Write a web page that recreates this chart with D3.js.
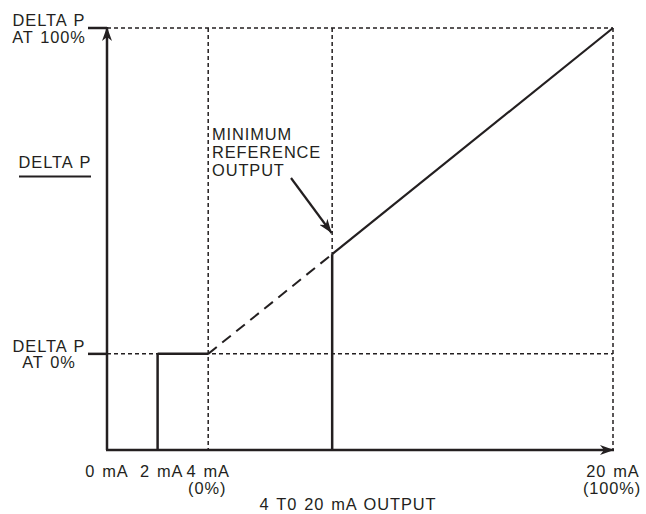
<!DOCTYPE html>
<html>
<head>
<meta charset="utf-8">
<script src="https://cdn.jsdelivr.net/npm/d3@7"></script>
<style>
  html, body { margin: 0; padding: 0; background: #fff; }
  svg { display: block; font-family: "Liberation Sans", Arial, Helvetica, sans-serif; }
  svg text { letter-spacing: 0.9px; word-spacing: 1.5px; }
</style>
</head>
<body>
<svg id="chart" width="646" height="514"></svg>
<script>
// ---- data ----
const xTickValues = [0, 2, 4, 20];
const xTickLabels = ["0 mA", "2 mA", "4 mA", "20 mA"];
const xTickSubLabels = ["", "", "(0%)", "(100%)"];
const xTitle = "4 T0 20 mA OUTPUT";
const yTickValues = [100, 0];
const yTickLabels = [["DELTA P", "AT 100%"], ["DELTA P", "AT 0%"]];
const yTitle = "DELTA P";
const stepMA = [2, 4];          // output held at 0% between 2 mA and 4 mA
const stepPct = [0, 0];
const lineMA = [4, 8.9, 20];    // delta P vs output
const linePct = [0, 30.6, 100];
const minRefMA = 8.9;
const annotation = ["MINIMUM", "REFERENCE", "OUTPUT"];

// ---- scales ----
const svg = d3.select("#chart");
const ink = "#231f20";
const fs = 16.4;
const x = d3.scaleLinear().domain([0, 20]).range([107, 613]);
const y = d3.scaleLinear().domain([-29.5, 100]).range([450, 28]);
const x0 = x(0), y0 = y.range()[0];

const defs = svg.append("defs");
["ah", "ah2"].forEach(id => {
  defs.append("marker").attr("id", id).attr("viewBox", "0 0 14 10")
    .attr("refX", 14).attr("refY", 5).attr("markerWidth", 14).attr("markerHeight", 10)
    .attr("markerUnits", "userSpaceOnUse").attr("orient", "auto")
    .append("path").attr("d", "M0,0 L14,5 L0,10 L4,5 Z").attr("fill", ink);
});

const dash = "4,3";
const g = svg.append("g");

// dashed guides
const guides = [
  [x0, y(100), x(20), y(100)],
  [x(20), y(100), x(20), y0],
  [x0, y(0), x(20), y(0)],
  [x(4), y(100), x(4), y0],
  [x(minRefMA), y(100), x(minRefMA), y(linePct[1])]
];
g.selectAll("line.guide").data(guides).join("line").attr("class", "guide")
  .attr("x1", d => d[0]).attr("y1", d => d[1]).attr("x2", d => d[2]).attr("y2", d => d[3])
  .attr("stroke", ink).attr("stroke-width", 1.5).attr("stroke-dasharray", dash);

// axes with arrows
g.append("line").attr("x1", x0).attr("y1", y0).attr("x2", x0).attr("y2", y(100) - 1)
  .attr("stroke", ink).attr("stroke-width", 2.5).attr("marker-end", "url(#ah)");
g.append("line").attr("x1", x0 - 1).attr("y1", y0).attr("x2", x(20) + 1).attr("y2", y0)
  .attr("stroke", ink).attr("stroke-width", 2.5).attr("marker-end", "url(#ah)");

// y ticks
g.selectAll("line.ytick").data(yTickValues).join("line").attr("class", "ytick")
  .attr("x1", x0 - 19).attr("x2", x0).attr("y1", d => y(d)).attr("y2", d => y(d))
  .attr("stroke", ink).attr("stroke-width", 2.5);

yTickValues.forEach((v, i) => {
  const t = g.append("text").attr("text-anchor", "middle").attr("fill", ink)
    .attr("font-size", fs);
  yTickLabels[i].forEach((s, j) => {
    t.append("tspan").attr("x", 49).attr("y", y(v) - 2 + j * 16.5).text(s);
  });
});

// y title with underline
g.append("text").attr("x", 55).attr("y", 168).attr("text-anchor", "middle")
  .attr("fill", ink).attr("font-size", fs).text(yTitle);
g.append("line").attr("x1", 19).attr("x2", 91).attr("y1", 176.5).attr("y2", 176.5)
  .attr("stroke", ink).attr("stroke-width", 2);

// step at 0%
g.append("line").attr("x1", x(stepMA[0])).attr("y1", y0).attr("x2", x(stepMA[0])).attr("y2", y(stepPct[0]))
  .attr("stroke", ink).attr("stroke-width", 2.5);
g.append("line").attr("x1", x(stepMA[0])).attr("y1", y(stepPct[0])).attr("x2", x(stepMA[1])).attr("y2", y(stepPct[1]))
  .attr("stroke", ink).attr("stroke-width", 2.5);

// dashed part of line (below minimum reference)
g.append("line").attr("x1", x(lineMA[0])).attr("y1", y(linePct[0]))
  .attr("x2", x(lineMA[1])).attr("y2", y(linePct[1]))
  .attr("stroke", ink).attr("stroke-width", 2).attr("stroke-dasharray", "11,7");
// solid part
g.append("line").attr("x1", x(lineMA[1])).attr("y1", y(linePct[1]))
  .attr("x2", x(lineMA[2])).attr("y2", y(linePct[2]))
  .attr("stroke", ink).attr("stroke-width", 2.2);
// minimum reference vertical
g.append("line").attr("x1", x(minRefMA)).attr("y1", y0).attr("x2", x(minRefMA)).attr("y2", y(linePct[1]))
  .attr("stroke", ink).attr("stroke-width", 2.5);

// annotation
const at = g.append("text").attr("fill", ink).attr("font-size", fs);
annotation.forEach((s, j) => at.append("tspan").attr("x", 212).attr("y", 140 + j * 17.8).text(s));
g.append("line").attr("x1", 291).attr("y1", 178).attr("x2", x(minRefMA) - 0.5).attr("y2", 233)
  .attr("stroke", ink).attr("stroke-width", 2.2).attr("marker-end", "url(#ah2)");

// x tick labels
const xOff = [0, 4, 0, 0];
xTickValues.forEach((v, i) => {
  const t = g.append("text").attr("text-anchor", "middle").attr("fill", ink).attr("font-size", fs);
  t.append("tspan").attr("x", x(v) + xOff[i]).attr("y", 476.5).text(xTickLabels[i]);
  if (xTickSubLabels[i]) t.append("tspan").attr("x", x(v) + xOff[i] - 1).attr("y", 493.5).text(xTickSubLabels[i]);
});
g.append("text").attr("x", 348).attr("y", 510).attr("text-anchor", "middle")
  .attr("fill", ink).attr("font-size", fs).text(xTitle);
</script>
</body>
</html>
